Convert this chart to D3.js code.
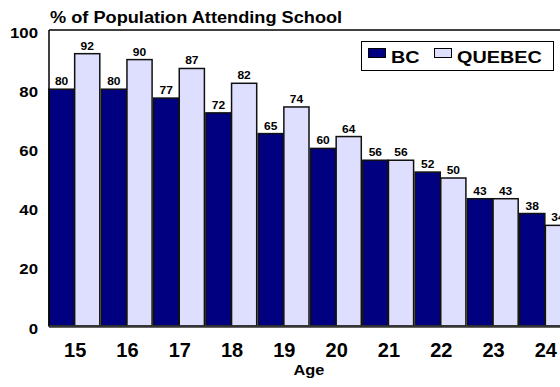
<!DOCTYPE html>
<html><head><meta charset="utf-8">
<script src="https://cdn.jsdelivr.net/npm/d3@7"></script>
<style>
html,body{margin:0;padding:0;background:#fff;}
text{font-family:Arial,"Liberation Sans",sans-serif;font-weight:bold;fill:#000;}
</style></head>
<body>
<svg id="c" width="560" height="387"></svg>
<script>
const ages = ["15","16","17","18","19","20","21","22","23","24"];
const seriesNames = ["BC","QUEBEC"];
const bcValues = [80,80,77,72,65,60,56,52,43,38];
const quebecValues = [92,90,87,82,74,64,56,50,43,34];
const yTicks = [0,20,40,60,80,100];
const colors = {BC:"#000080", QUEBEC:"#dedeff"};
const title = "% of Population Attending School";
const xTitle = "Age";

const svg = d3.select("#c");
const L = 49, R = 572, T = 30, B = 326;
const x0 = d3.scaleBand().domain(ages).range([L, R]).padding(0);
const x1 = d3.scaleBand().domain(seriesNames).range([0, x0.bandwidth() - 1.5]).paddingInner(0.02);
const y = d3.scaleLinear().domain([0, 100]).range([B, T]);

function stxt(g, x, yy, s, str, size, anchor, sx) {
  return g.append("text")
    .attr("transform", `translate(${x},${yy}) scale(${sx},1)`)
    .attr("text-anchor", anchor)
    .style("font-size", size + "px")
    .text(str);
}

// title
stxt(svg, 50, 23, title, title, 17, "start", 1.07);

// frame lines
svg.append("line").attr("x1", L).attr("x2", 560).attr("y1", T).attr("y2", T).attr("stroke", "#000").attr("stroke-width", 1.5);

// y axis labels
const yAxis = d3.axisLeft(y).tickValues(yTicks).tickSize(0).tickPadding(11);
const yg = svg.append("g").attr("transform", `translate(${L},0)`).call(yAxis);
yg.select(".domain").remove();
yg.selectAll(".tick text").each(function(d) {
  const t = d3.select(this);
  t.attr("x", null).attr("dy", null)
   .attr("transform", `translate(-11,${7}) scale(1.2,1)`)
   .attr("text-anchor", "end")
   .style("font-size", "14px")
   .style("font-family", "Arial, 'Liberation Sans', sans-serif")
   .style("font-weight", "bold");
});

// bars
const data = ages.map((a, i) => ({age: a, vals: [{k: "BC", v: bcValues[i]}, {k: "QUEBEC", v: quebecValues[i]}]}));
const groups = svg.append("g").selectAll("g").data(data).join("g")
  .attr("transform", d => `translate(${x0(d.age)},0)`);
groups.selectAll("rect").data(d => d.vals).join("rect")
  .attr("x", d => x1(d.k))
  .attr("y", d => y(d.v))
  .attr("width", x1.bandwidth())
  .attr("height", d => B - y(d.v))
  .attr("fill", d => colors[d.k])
  .attr("stroke", "#111")
  .attr("stroke-width", 1.5);
groups.each(function(d) {
  const g = d3.select(this);
  d.vals.forEach(v => {
    stxt(g, x1(v.k) + x1.bandwidth() / 2, y(v.v) - 4, "", String(v.v), 10, "middle", 1.2);
  });
});

// left axis & baseline
svg.append("line").attr("x1", L).attr("x2", L).attr("y1", T).attr("y2", B).attr("stroke", "#000").attr("stroke-width", 1.5);
svg.append("line").attr("x1", L).attr("x2", 560).attr("y1", B + 0.5).attr("y2", B + 0.5).attr("stroke", "#333").attr("stroke-width", 2.5);

// x axis labels
const xAxis = d3.axisBottom(x0).tickSize(0).tickPadding(0);
const xg = svg.append("g").attr("transform", `translate(0,${B})`).call(xAxis);
xg.select(".domain").remove();
xg.selectAll(".tick text")
  .attr("y", 31).attr("dy", null)
  .style("font-size", "20px")
  .style("font-family", "Arial, 'Liberation Sans', sans-serif")
  .style("font-weight", "bold");

// x title
stxt(svg, 309, 375, "", xTitle, 14, "middle", 1.17);

// legend
const lg = svg.append("g");
lg.append("rect").attr("x", 361.5).attr("y", 41.5).attr("width", 192).attr("height", 29)
  .attr("fill", "#fff").attr("stroke", "#000").attr("stroke-width", 1);
const legItems = [{k: "BC", sx: 368.5, tx: 391}, {k: "QUEBEC", sx: 434.5, tx: 457}];
legItems.forEach(it => {
  lg.append("rect").attr("x", it.sx).attr("y", 48.5).attr("width", 17).attr("height", 9)
    .attr("fill", colors[it.k]).attr("stroke", "#000").attr("stroke-width", 1);
  stxt(lg, it.tx, 62.5, "", it.k, 16.5, "start", 1.2);
});
</script>
</body></html>
